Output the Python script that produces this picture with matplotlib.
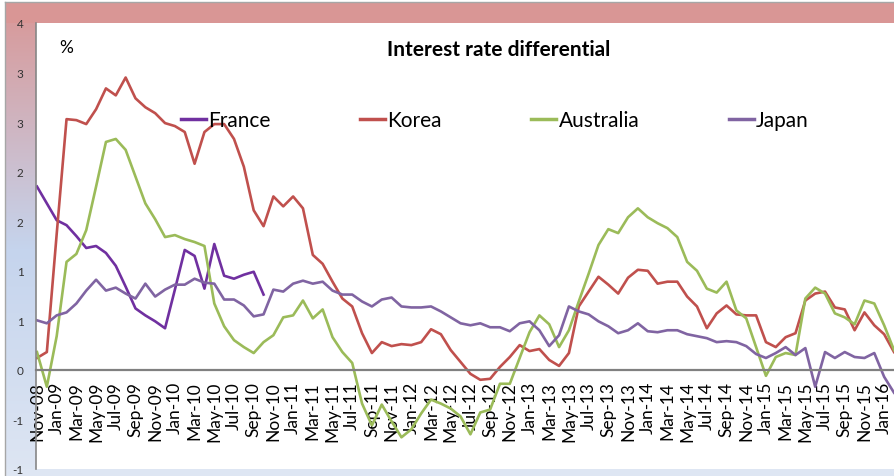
import numpy as np
import pandas as pd
import matplotlib
matplotlib.use("Agg")
import matplotlib.pyplot as plt

plt.rcParams['font.family'] = ['Lato', 'DejaVu Sans']

# ---------------- data ----------------
months = pd.date_range('2008-11-01', periods=88, freq='MS').strftime('%b-%y').tolist()

france = [1.85, 1.68, 1.51, 1.46, 1.35, 1.23, 1.25, 1.18, 1.05, 0.84, 0.62, 0.55,
          0.49, 0.42, 0.81, 1.21, 1.15, 0.82, 1.27, 0.95, 0.92, 0.96, 0.99, 0.76]

korea = [0.12, 0.18, 1.37, 2.53, 2.52, 2.48, 2.63, 2.84, 2.77, 2.95, 2.74, 2.65,
         2.59, 2.49, 2.46, 2.40, 2.08, 2.40, 2.48, 2.48, 2.33, 2.05, 1.61, 1.45,
         1.75, 1.65, 1.75, 1.63, 1.16, 1.07, 0.89, 0.72, 0.64, 0.37, 0.17, 0.28,
         0.24, 0.26, 0.25, 0.28, 0.41, 0.36, 0.20, 0.08, -0.04, -0.10, -0.09, 0.03,
         0.13, 0.25, 0.19, 0.21, 0.10, 0.04, 0.17, 0.64, 0.79, 0.94, 0.86, 0.77,
         0.93, 1.01, 1.00, 0.87, 0.89, 0.89, 0.74, 0.64, 0.42, 0.57, 0.65, 0.56,
         0.55, 0.55, 0.28, 0.23, 0.33, 0.37, 0.70, 0.77, 0.79, 0.63, 0.61, 0.40,
         0.58, 0.45, 0.36, 0.18]

australia = [0.18, -0.17, 0.34, 1.09, 1.17, 1.41, 1.85, 2.30, 2.33, 2.22, 1.95, 1.68,
             1.52, 1.34, 1.36, 1.32, 1.29, 1.25, 0.67, 0.44, 0.30, 0.23, 0.17, 0.28,
             0.35, 0.53, 0.55, 0.70, 0.52, 0.61, 0.33, 0.18, 0.07, -0.34, -0.56, -0.35,
             -0.52, -0.68, -0.60, -0.44, -0.30, -0.34, -0.39, -0.47, -0.65, -0.43, -0.40, -0.14,
             -0.14, 0.12, 0.38, 0.55, 0.46, 0.23, 0.40, 0.69, 0.97, 1.26, 1.42, 1.38,
             1.54, 1.63, 1.54, 1.48, 1.43, 1.34, 1.09, 1.00, 0.82, 0.78, 0.89, 0.60,
             0.52, 0.23, -0.06, 0.13, 0.17, 0.15, 0.72, 0.83, 0.77, 0.57, 0.53, 0.46,
             0.70, 0.67, 0.45, 0.20]

japan = [0.50, 0.47, 0.55, 0.58, 0.67, 0.80, 0.91, 0.80, 0.83, 0.77, 0.72, 0.87,
         0.74, 0.81, 0.86, 0.86, 0.92, 0.88, 0.87, 0.71, 0.71, 0.65, 0.54, 0.56,
         0.81, 0.79, 0.87, 0.90, 0.87, 0.89, 0.80, 0.76, 0.76, 0.69, 0.64, 0.71,
         0.73, 0.64, 0.63, 0.63, 0.64, 0.59, 0.53, 0.47, 0.45, 0.47, 0.43, 0.43,
         0.39, 0.47, 0.49, 0.40, 0.24, 0.35, 0.64, 0.59, 0.56, 0.49, 0.44, 0.37,
         0.40, 0.47, 0.39, 0.38, 0.40, 0.40, 0.36, 0.34, 0.32, 0.28, 0.29, 0.28,
         0.24, 0.16, 0.12, 0.17, 0.23, 0.15, 0.22, -0.17, 0.18, 0.12, 0.18, 0.13,
         0.12, 0.17, -0.07, -0.23]

y_ticks = [-1.0, -0.5, 0.0, 0.5, 1.0, 1.5, 2.0, 2.5, 3.0, 3.5]
y_tick_labels = ['-1', '-1', '0', '1', '1', '2', '2', '3', '3', '4']

series_names = ['France', 'Korea', 'Australia', 'Japan']
series_colors = ['#7030A0', '#C0504D', '#9BBB59', '#8064A2']

# ---------------- figure ----------------
W, H = 894, 477
fig = plt.figure(figsize=(W / 100, H / 100), dpi=100, facecolor='white')

# background gradient frame
bg = fig.add_axes([0, 0, 1, 1], zorder=0)
img = np.ones((H, W, 3))
pink = np.array([217, 150, 149]) / 255
blue = np.array([197, 212, 237]) / 255
light = np.array([222, 230, 243]) / 255
col = np.zeros((H, 3))
for r in range(H):
    if r < 250:
        t = r / 250
        col[r] = pink * (1 - t) + blue * t
    else:
        t = (r - 250) / (H - 250)
        col[r] = blue * (1 - t) + light * t
img[:, :36, :] = col[:, None, :]
img[:24, :, :] = pink
img[470:, :, :] = light
img[:, :5, :] = 1.0
img[:3, :, :] = 1.0
bg.imshow(img, aspect='auto', extent=[0, W, H, 0], interpolation='bilinear')
bg.plot([5, 5], [3, H], color='#A6A6A6', lw=1.0)
bg.plot([5, W], [3, 3], color='#A6A6A6', lw=1.0)
bg.set_xlim(0, W)
bg.set_ylim(H, 0)
bg.axis('off')

# main axes
ax = fig.add_axes([36 / W, 7 / H, (W - 36) / W, (470 - 24) / H], zorder=1)
ax.set_facecolor('white')
x = np.arange(len(months))
fr = france + [np.nan] * (len(months) - len(france))
for name, vals, c in zip(series_names, [fr, korea, australia, japan], series_colors):
    ax.plot(x, vals, color=c, lw=1.9, label=name, solid_joinstyle='round')

ax.set_xlim(-0.1, 87)
ax.set_ylim(-1, 3.5)
ax.set_yticks(y_ticks)
ax.set_yticklabels(y_tick_labels)
ax.tick_params(axis='y', length=0, pad=9, labelsize=8.5, colors='#333333')

ax.spines['bottom'].set_position(('data', 0))
ax.spines['bottom'].set_color('#808080')
ax.spines['bottom'].set_linewidth(1.6)
ax.spines['left'].set_color('#868686')
ax.spines['left'].set_linewidth(1.2)
ax.spines['top'].set_visible(False)
ax.spines['right'].set_visible(False)

ax.set_xticks(x[::2])
ax.set_xticklabels(months[::2], rotation=90)
ax.tick_params(axis='x', length=0, pad=8, labelsize=12.5, colors='black')

# title and unit label
fig.text(499 / W, 1 - 50 / H, 'Interest rate differential', ha='center', va='center',
         fontsize=15, fontweight='bold', color='black')
fig.text(66 / W, 1 - 48 / H, '%', ha='center', va='center', fontsize=12.5, color='black')

leg = fig.legend(loc='center', bbox_to_anchor=(495 / W, 1 - 121 / H), ncol=4, frameon=False,
                 fontsize=15, handlelength=1.2, handletextpad=0.1, columnspacing=4.3)
for h in leg.get_lines():
    h.set_linewidth(2.5)

fig.savefig('out.png', dpi=100, facecolor='white')
